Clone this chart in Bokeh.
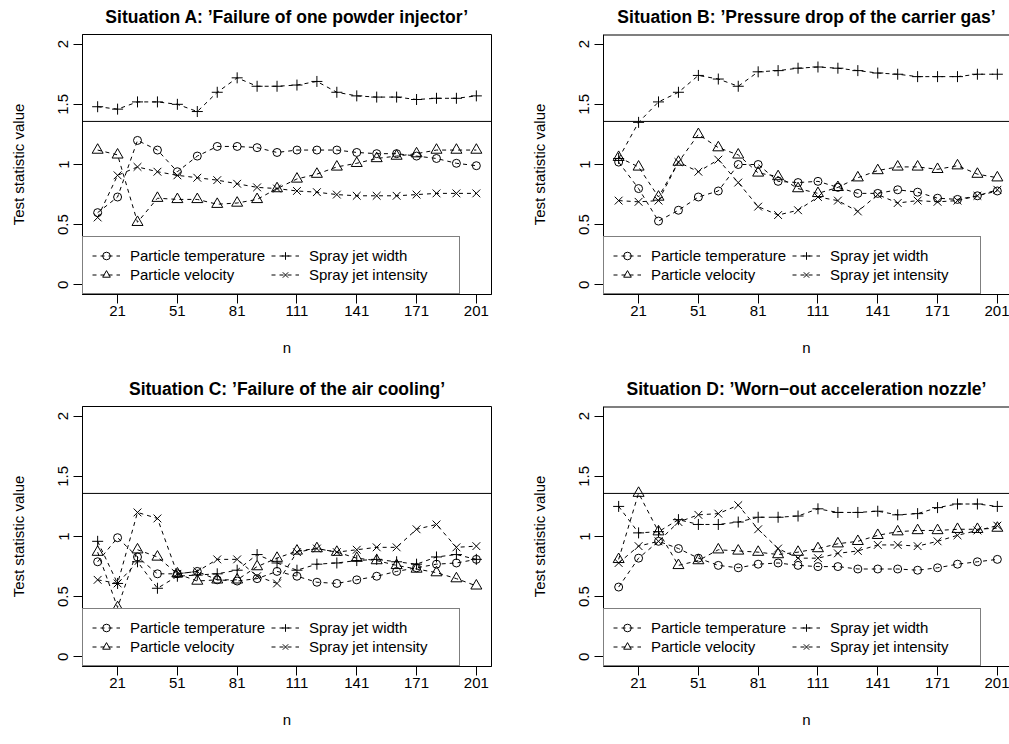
from bokeh.plotting import figure
from bokeh.models import Range1d, FixedTicker, Span, Legend, LegendItem, Title
from bokeh.layouts import gridplot
from bokeh.embed import file_html
from bokeh.resources import INLINE

# ---------------- data ----------------
n = [11, 21, 31, 41, 51, 61, 71, 81, 91, 101, 111, 121, 131, 141, 151, 161, 171, 181, 191, 201]
x_ticks = [21, 51, 81, 111, 141, 171, 201]
y_ticks = [0, 0.5, 1, 1.5, 2]
y_tick_labels = ["0", "0.5", "1", "1.5", "2"]
critical_value = 1.358

series_names = ["Particle temperature", "Particle velocity", "Spray jet width", "Spray jet intensity"]

titles = [
    "Situation A: \u2019Failure of one powder injector\u2019",
    "Situation B: \u2019Pressure drop of the carrier gas\u2019",
    "Situation C: \u2019Failure of the air cooling\u2019",
    "Situation D: \u2019Worn\u2212out acceleration nozzle\u2019",
]

a_temp = [0.60, 0.73, 1.20, 1.12, 0.94, 1.07, 1.15, 1.15, 1.14, 1.10, 1.12, 1.12, 1.12, 1.10, 1.09, 1.09, 1.07, 1.05, 1.01, 0.99]
a_vel = [1.12, 1.08, 0.52, 0.72, 0.71, 0.71, 0.67, 0.68, 0.71, 0.80, 0.88, 0.92, 0.98, 1.01, 1.05, 1.07, 1.09, 1.12, 1.12, 1.12]
a_width = [1.48, 1.46, 1.52, 1.52, 1.50, 1.44, 1.60, 1.72, 1.65, 1.65, 1.66, 1.69, 1.60, 1.57, 1.56, 1.56, 1.54, 1.55, 1.55, 1.57]
a_int = [0.56, 0.91, 0.98, 0.94, 0.91, 0.89, 0.87, 0.84, 0.81, 0.80, 0.78, 0.77, 0.75, 0.74, 0.74, 0.74, 0.75, 0.76, 0.76, 0.76]

b_temp = [1.02, 0.80, 0.53, 0.62, 0.73, 0.78, 1.00, 1.00, 0.86, 0.85, 0.86, 0.81, 0.76, 0.76, 0.79, 0.77, 0.72, 0.71, 0.74, 0.78]
b_vel = [1.06, 0.98, 0.73, 1.02, 1.25, 1.14, 1.08, 0.93, 0.90, 0.80, 0.76, 0.81, 0.89, 0.95, 0.98, 0.98, 0.96, 0.99, 0.92, 0.89]
b_width = [1.05, 1.35, 1.52, 1.60, 1.74, 1.71, 1.65, 1.77, 1.78, 1.80, 1.81, 1.80, 1.78, 1.76, 1.75, 1.73, 1.73, 1.73, 1.75, 1.75]
b_int = [0.70, 0.69, 0.70, 1.02, 0.94, 1.04, 0.85, 0.65, 0.58, 0.62, 0.73, 0.70, 0.61, 0.75, 0.68, 0.70, 0.69, 0.70, 0.74, 0.79]

c_temp = [0.79, 0.99, 0.83, 0.69, 0.69, 0.71, 0.64, 0.63, 0.65, 0.71, 0.67, 0.62, 0.61, 0.64, 0.67, 0.71, 0.74, 0.77, 0.78, 0.81]
c_vel = [0.87, 0.41, 0.89, 0.83, 0.69, 0.63, 0.64, 0.64, 0.75, 0.82, 0.88, 0.90, 0.87, 0.82, 0.80, 0.76, 0.73, 0.70, 0.65, 0.59]
c_width = [0.96, 0.61, 0.79, 0.57, 0.67, 0.68, 0.69, 0.72, 0.85, 0.78, 0.72, 0.77, 0.78, 0.80, 0.81, 0.79, 0.77, 0.83, 0.85, 0.81]
c_int = [0.64, 0.61, 1.20, 1.15, 0.69, 0.71, 0.81, 0.81, 0.67, 0.61, 0.87, 0.90, 0.87, 0.89, 0.91, 0.91, 1.06, 1.10, 0.91, 0.92]

d_temp = [0.58, 0.82, 0.96, 0.90, 0.82, 0.76, 0.74, 0.77, 0.78, 0.76, 0.75, 0.75, 0.73, 0.73, 0.73, 0.72, 0.74, 0.77, 0.79, 0.81]
d_vel = [0.81, 1.36, 1.04, 0.76, 0.80, 0.89, 0.88, 0.87, 0.85, 0.87, 0.90, 0.94, 0.96, 1.01, 1.04, 1.05, 1.05, 1.06, 1.06, 1.07]
d_width = [1.25, 1.03, 1.04, 1.14, 1.10, 1.10, 1.12, 1.16, 1.16, 1.17, 1.23, 1.20, 1.20, 1.21, 1.18, 1.19, 1.24, 1.27, 1.27, 1.25]
d_int = [0.78, 0.92, 0.96, 1.12, 1.18, 1.19, 1.26, 1.06, 0.90, 0.82, 0.82, 0.86, 0.88, 0.93, 0.93, 0.92, 0.96, 1.01, 1.05, 1.09]

panels = [
    (titles[0], [a_temp, a_vel, a_width, a_int]),
    (titles[1], [b_temp, b_vel, b_width, b_int]),
    (titles[2], [c_temp, c_vel, c_width, c_int]),
    (titles[3], [d_temp, d_vel, d_width, d_int]),
]

# ---------------- styling ----------------
FONT = "Liberation Sans"
markers = ["circle", "triangle", "cross", "x"]
marker_sizes = [8, 11, 11, 11]

X0, X1 = 3.4, 208.6           # R-style 4% extension of 11..201
Y0, Y1 = -0.08, 2.08          # R-style 4% extension of 0..2
FULL_W, LEFT_W = 409, 82


def make_panel(title, series, fig_w, right_open):
    frame_w = fig_w - LEFT_W - (0 if right_open else 30)
    xend = X0 + frame_w * (X1 - X0) / FULL_W
    p = figure(width=fig_w, height=372,
               x_range=Range1d(X0, xend), y_range=Range1d(Y0, Y1),
               output_backend="svg", toolbar_location=None,
               min_border_left=LEFT_W, min_border_right=(0 if right_open else 30),
               min_border_top=34, min_border_bottom=78,
               background_fill_color="white", border_fill_color="white")
    p.grid.visible = False
    t = Title(text=title, align="center", vertical_align="top",
              text_font=FONT, text_font_size="17.5px",
              text_font_style="bold", text_color="black", standoff=12)
    p.add_layout(t, "above")

    if right_open:
        p.outline_line_color = None
        p.segment(x0=[X0], y0=[Y1], x1=[xend], y1=[Y1], line_color="black", line_width=2)
    else:
        p.outline_line_color = "black"
        p.outline_line_width = 1
        p.outline_line_alpha = 1.0

    for ax in (p.xaxis[0], p.yaxis[0]):
        ax.axis_line_color = "black"
        ax.major_tick_line_color = "black"
        ax.major_tick_out = 9
        ax.major_tick_in = 0
        ax.minor_tick_line_color = None
        ax.major_label_text_font = FONT
        ax.major_label_text_font_size = "15px"
        ax.major_label_text_color = "black"
        ax.axis_label_text_font = FONT
        ax.axis_label_text_font_size = "15px"
        ax.axis_label_text_font_style = "normal"
        ax.axis_label_text_color = "black"

    p.xaxis.ticker = FixedTicker(ticks=x_ticks)
    p.xaxis.axis_label = "n"
    p.xaxis.major_label_standoff = 2
    p.xaxis.axis_label_standoff = 20

    p.yaxis.ticker = FixedTicker(ticks=y_ticks)
    p.yaxis.major_label_overrides = {t_: l_ for t_, l_ in zip(y_ticks, y_tick_labels)}
    p.yaxis.major_label_orientation = "vertical"
    p.yaxis.major_label_standoff = 5
    p.yaxis.axis_label = "Test statistic value"
    p.yaxis.axis_label_standoff = 29

    p.add_layout(Span(location=critical_value, dimension="width",
                      line_color="black", line_width=1))

    items = []
    for name, vals, mk, ms in zip(series_names, series, markers, marker_sizes):
        lr = p.line(n, vals, line_color="black", line_width=1, line_dash="4 4")
        sr = p.scatter(n, vals, marker=mk, size=ms, line_color="black",
                       fill_color=None, line_width=1)
        items.append(LegendItem(label=name, renderers=[lr, sr]))

    legend = Legend(items=items, location="bottom_left", ncols=2,
                    orientation="vertical", margin=0, padding=9, spacing=0,
                    glyph_width=28, glyph_height=19, label_height=19,
                    label_width=141, label_standoff=10,
                    label_text_font=FONT, label_text_font_size="15px",
                    label_text_color="black",
                    border_line_color="black", border_line_width=1,
                    background_fill_color="white", background_fill_alpha=1.0)
    p.add_layout(legend)
    return p


pA = make_panel(panels[0][0], panels[0][1], 521, False)
pB = make_panel(panels[1][0], panels[1][1], 488, True)
pC = make_panel(panels[2][0], panels[2][1], 521, False)
pD = make_panel(panels[3][0], panels[3][1], 488, True)

grid = gridplot([[pA, pB], [pC, pD]], toolbar_location=None)

open("out.html", "w").write(file_html(grid, INLINE))
